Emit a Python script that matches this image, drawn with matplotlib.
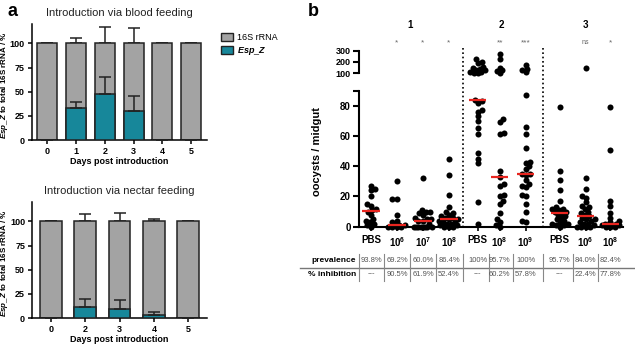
import numpy as np
import matplotlib
matplotlib.use("Agg")
from matplotlib import pyplot as plt
from matplotlib import transforms
from matplotlib.lines import Line2D
from matplotlib.patches import Patch

plt.rcParams['font.family'] = ['Liberation Sans', 'DejaVu Sans']
plt.rcParams['mathtext.fontset'] = 'custom'
plt.rcParams['mathtext.rm'] = 'Liberation Sans'
plt.rcParams['mathtext.bf'] = 'Liberation Sans:bold'
plt.rcParams['mathtext.it'] = 'Liberation Sans:italic:bold'

# ---- panel a data ----
days_blood = ['0', '1', '2', '3', '4', '5']
espz_blood = [0, 33, 48, 30, 0.5, 0.5]
espz_blood_err = [0, 6, 17, 16, 0, 0]
rrna_blood_err = [0, 6, 17, 16, 0, 0.5]

days_nectar = ['0', '2', '3', '4', '5']
espz_nectar = [0, 11, 9.5, 3.5, 0]
espz_nectar_err = [0, 8.5, 9, 3, 0]
rrna_nectar_err = [0, 8, 9, 2.5, 0]

# ---- panel b data (oocysts / midgut) ----
g1_pbs = [27, 25, 24, 20, 15, 14, 12, 11, 10, 8, 5, 4, 3, 2, 1, 0]
g1_1e6 = [30, 18, 18, 8, 4, 3, 1, 1, 1, 0, 0, 0, 0]
g1_1e7 = [32, 11, 10, 10, 9, 8, 6, 5, 5, 4, 4, 2, 0, 0, 0, 0, 0, 0, 0, 0]
g1_1e8 = [45, 34, 21, 13, 10, 9, 8, 7, 6, 6, 5, 5, 4, 3, 3, 2, 2, 1, 1, 0, 0, 0]
g2_pbs = [225, 200, 195, 160, 150, 140, 130, 125, 115, 110, 105, 100,
          84, 83, 82, 77, 76, 73, 70, 65, 61, 49, 45, 42, 16, 2]
g2_1e8 = [270, 225, 150, 125, 120, 100,
          71, 69, 62, 61, 37, 33, 28, 27, 21, 20, 17, 15, 9, 5, 3, 1, 0]
g2_1e9 = [175, 140, 125, 110,
          87, 66, 61, 52, 43, 42, 40, 38, 35, 35, 34, 31, 28, 27, 26, 21,
          20, 15, 10, 4, 3]
g3_pbs = [79, 37, 31, 24, 17, 13, 12, 12, 11, 10, 10, 9, 8, 7, 6, 5, 4, 3,
          2, 2, 1, 1, 0]
g3_1e6 = [150, 32, 25, 20, 19, 16, 14, 13, 12, 10, 9, 8, 7, 6, 5, 5, 4, 3,
          2, 2, 1, 0, 0, 0, 0]
g3_1e8 = [79, 51, 17, 14, 9, 6, 4, 3, 2, 2, 1, 1, 1, 1, 0, 0, 0]

oocysts = [g1_pbs, g1_1e6, g1_1e7, g1_1e8, g2_pbs, g2_1e8, g2_1e9,
           g3_pbs, g3_1e6, g3_1e8]
dose_labels = ['PBS', r'$\mathbf{10^6}$', r'$\mathbf{10^7}$', r'$\mathbf{10^8}$',
               'PBS', r'$\mathbf{10^8}$', r'$\mathbf{10^9}$',
               'PBS', r'$\mathbf{10^6}$', r'$\mathbf{10^8}$']
signif = ['', '*', '*', '*', '', '**', '***', '', 'ns', '*']
group_names = ['1', '2', '3']
prevalence = ['93.8%', '69.2%', '60.0%', '86.4%', '100%', '95.7%', '100%',
              '95.7%', '84.0%', '82.4%']
inhibition = ['---', '90.5%', '61.9%', '52.4%', '---', '60.2%', '57.8%',
              '---', '22.4%', '77.8%']

GRAY = '#a3a3a3'
TEAL = '#17879a'
W, H = 635, 345

fig = plt.figure(figsize=(W / 100, H / 100), dpi=100)


def px_box(x0, y_top, x1, y_bot):
    return [x0 / W, 1 - y_bot / H, (x1 - x0) / W, (y_bot - y_top) / H]


def bar_panel(rect, days, espz, espz_err, rrna_err, width, title):
    ax = fig.add_axes(rect)
    x = np.arange(len(days))
    ax.bar(x, [100] * len(days), width, color=GRAY, edgecolor='#222222', lw=1.1, zorder=2)
    ax.bar(x, espz, width, color=TEAL, edgecolor='#222222', lw=1.1, zorder=3)
    ax.errorbar(x, [100] * len(days), yerr=[[0] * len(days), rrna_err], fmt='none',
                ecolor='#222222', elinewidth=1.1, capsize=4, capthick=1.1, zorder=1)
    ax.errorbar(x, espz, yerr=[[0] * len(days), espz_err], fmt='none',
                ecolor='#222222', elinewidth=1.1, capsize=4, capthick=1.1, zorder=4)
    ax.set_xlim(-0.55, len(days) - 0.45)
    ax.set_ylim(0, 120)
    ax.set_yticks([0, 25, 50, 75, 100])
    ax.set_xticks(x, days)
    for s in ('top', 'right'):
        ax.spines[s].set_visible(False)
    for s in ('left', 'bottom'):
        ax.spines[s].set_linewidth(1.1)
    ax.tick_params(labelsize=6.5, width=1.1, length=3, pad=2)
    for t in ax.get_xticklabels() + ax.get_yticklabels():
        t.set_fontweight('bold')
    ax.set_title(title, fontsize=8, pad=6, color='#222222')
    ax.set_xlabel('Days post introduction', fontsize=6.5, fontweight='bold', labelpad=1)
    ax.set_ylabel(r'$\mathit{Esp\_Z}$ to total 16S rRNA / %', fontsize=5.8,
                  fontweight='bold')
    x0 = rect[0] * W
    ax.yaxis.set_label_coords((10 - x0) / (rect[2] * W), 0.47)
    return ax


ax_a1 = bar_panel(px_box(31.5, 24, 207, 140), days_blood, espz_blood,
                  espz_blood_err, rrna_blood_err, 0.69, 'Introduction via blood feeding')
ax_a2 = bar_panel(px_box(32, 202, 207, 318), days_nectar, espz_nectar,
                  espz_nectar_err, rrna_nectar_err, 0.63, 'Introduction via nectar feeding')

fig.legend(handles=[Patch(facecolor=GRAY, edgecolor='#222222', lw=1),
                    Patch(facecolor=TEAL, edgecolor='#222222', lw=1)],
           labels=['16S rRNA', r'$\mathit{Esp\_Z}$'], loc='upper left',
           bbox_to_anchor=(213 / W, 1 - 25 / H), frameon=False, fontsize=6.5,
           handlelength=1.3, handleheight=0.9, handletextpad=0.5, labelspacing=0.35)

# ---- panel b ----
pos = np.array([0, 1, 2, 3, 4.1, 4.95, 5.95, 7.25, 8.25, 9.2])
xlim = (-0.46, 9.69)
ax_lo = fig.add_axes(px_box(359, 90.5, 623, 226.7))
ax_hi = fig.add_axes(px_box(359, 45, 623, 78.95))
ax_lo.set_xlim(*xlim)
ax_hi.set_xlim(*xlim)
ax_lo.set_ylim(0, 90)
ax_hi.set_ylim(50, 350)


def swarm(ax, xc, vals, d=4.2, max_off=10.5):
    # simple beeswarm in pixel space, dots may overlap once the band is full
    vals = np.asarray(vals, dtype=float)
    pts = ax.transData.transform(np.column_stack([np.full(len(vals), xc), vals]))
    cands = np.arange(-max_off, max_off + 0.01, 0.5)
    cands = cands[np.argsort(np.abs(cands) + 0.01 * (cands > 0))]
    placed = np.empty((0, 2))
    xs = np.zeros(len(vals))
    for n, i in enumerate(np.argsort(vals, kind='stable')):
        px, py = pts[i]
        if len(placed) == 0:
            off = 0.0
        else:
            dist = np.min(np.hypot(px + cands[:, None] - placed[None, :, 0],
                                   py - placed[None, :, 1]), axis=1)
            ok = np.nonzero(dist >= d)[0]
            if len(ok):
                c = cands[ok]
                off = c[0] if n % 2 else c[np.argmin(np.abs(c) + 0.01 * (c < 0))]
            else:
                off = cands[np.argmax(dist)]
        placed = np.vstack([placed, [px + off, py]])
        xs[i] = px + off
    return ax.transData.inverted().transform(np.column_stack([xs, pts[:, 1]]))[:, 0]


for xc, vals in zip(pos, oocysts):
    vals = np.asarray(vals, dtype=float)
    lo = vals[vals < 95]
    hi = vals[vals >= 95]
    if len(lo):
        ax_lo.scatter(swarm(ax_lo, xc, lo), lo, s=19, color='black', lw=0,
                      clip_on=False, zorder=3)
    if len(hi):
        ax_hi.scatter(swarm(ax_hi, xc, hi, d=3.6, max_off=8), hi, s=19,
                      color='black', lw=0, clip_on=False, zorder=3)
    med = np.median(vals)
    ax_lo.plot([xc - 0.33, xc + 0.33], [med, med], color='#e8251f', lw=1.6,
               zorder=4, solid_capstyle='butt', clip_on=False)

for ax in (ax_lo, ax_hi):
    for s in ('top', 'right'):
        ax.spines[s].set_visible(False)
    ax.spines['left'].set_linewidth(1.5)
    ax.tick_params(axis='y', labelsize=7, width=1.5, length=4, pad=2)

ax_hi.spines['bottom'].set_visible(False)
ax_hi.spines['left'].set_bounds(100, 300)
ax_hi.set_yticks([100, 200, 300])
ax_hi.tick_params(axis='y', labelsize=6.5)
ax_hi.set_xticks([])
ax_lo.spines['left'].set_bounds(0, 90)
ax_lo.set_yticks([0, 20, 40, 60, 80, 90], ['0', '20', '40', '60', '80', ''])
ax_lo.spines['bottom'].set_linewidth(1.5)
ax_lo.set_xticks(pos, dose_labels)
ax_lo.tick_params(axis='x', labelsize=7, width=1.2, length=3, pad=3)
for ax in (ax_lo, ax_hi):
    for t in ax.get_xticklabels() + ax.get_yticklabels():
        t.set_fontweight('bold')
ax_lo.set_ylabel('oocysts / midgut', fontsize=8, fontweight='bold')
ax_lo.yaxis.set_label_coords((322 - 359) / 264, 0.55)

# dotted separators between experiments
to_fig = transforms.blended_transform_factory(ax_lo.transData, fig.transFigure)
for xs in ((pos[3] + pos[4]) / 2, (pos[6] + pos[7]) / 2):
    fig.add_artist(Line2D([xs, xs], [1 - 48 / H, 1 - 226.7 / H], transform=to_fig,
                          color='black', lw=1.2, linestyle=(0, (1, 1.6))))

# experiment numbers and significance marks
groups = [pos[0:4], pos[4:7], pos[7:10]]
for name, g in zip(group_names, groups):
    fig.text(np.mean(g), 1 - 25 / H, name, transform=to_fig, ha='center',
             va='center', fontsize=7, fontweight='bold')
for xc, s in zip(pos, signif):
    if s:
        fig.text(xc, 1 - 43 / H, s, transform=to_fig, ha='center', va='center',
                 fontsize=5 if s == 'ns' else 6, color='#666666')

# table under panel b
y_prev = 1 - 261 / H
y_inh = 1 - 274 / H
fig.text(356 / W, y_prev, 'prevalence', ha='right', va='center', fontsize=6,
         fontweight='bold')
fig.text(356 / W, y_inh, '% inhibition', ha='right', va='center', fontsize=6,
         fontweight='bold')
for xc, p, q in zip(pos, prevalence, inhibition):
    fig.text(xc, y_prev, p, transform=to_fig, ha='center', va='center',
             fontsize=5.5, color='#555555')
    fig.text(xc, y_inh, q, transform=to_fig, ha='center', va='center',
             fontsize=5.5, color='#555555')
fig.add_artist(Line2D([300 / W, 1], [1 - 267.5 / H] * 2, color='#777777', lw=1))
seps = np.concatenate([[xlim[0]], (pos[:-1] + pos[1:]) / 2])
for xs in seps:
    fig.add_artist(Line2D([xs, xs], [1 - 254 / H, 1 - 281 / H], transform=to_fig,
                          color='#888888', lw=0.8))

fig.text(8 / W, 1 - 12 / H, 'a', fontsize=13, fontweight='bold', va='center')
fig.text(308 / W, 1 - 12 / H, 'b', fontsize=13, fontweight='bold', va='center')

fig.savefig('out.png', dpi=100)
